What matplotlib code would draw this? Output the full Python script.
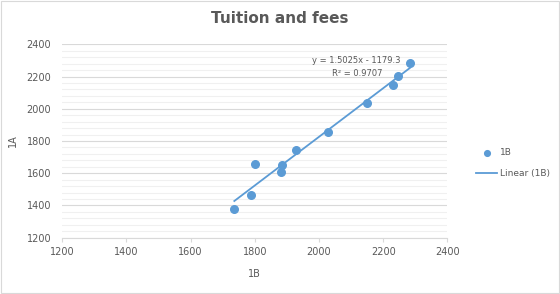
import numpy as np
import matplotlib
matplotlib.use("Agg")
import matplotlib.pyplot as plt
from matplotlib.patches import Rectangle

x_1b = [1736, 1788, 1800, 1882, 1884, 1929, 2028, 2149, 2229, 2246, 2283]
y_1a = [1375, 1466, 1657, 1607, 1648, 1745, 1855, 2035, 2145, 2201, 2284]
x_ticks = [1200, 1400, 1600, 1800, 2000, 2200, 2400]
y_ticks = [1200, 1400, 1600, 1800, 2000, 2200, 2400]

blue = "#5B9BD5"
grey = "#595959"

fig = plt.figure(figsize=(5.6, 2.94), dpi=100)
fig.patches.append(Rectangle((0.002, 0.003), 0.996, 0.994, transform=fig.transFigure,
                             fill=False, edgecolor="#D9D9D9", linewidth=0.8))
ax = fig.add_axes([0.1112, 0.1915, 0.6878, 0.6578])

coef = np.polyfit(x_1b, y_1a, 1)
xl = np.array([min(x_1b), max(x_1b)])
ax.plot(xl, np.polyval(coef, xl), color=blue, lw=1.3, label="Linear (1B)", zorder=3)
ax.scatter(x_1b, y_1a, s=30, color=blue, label="1B", zorder=4)

ax.set_xlim(1200, 2400)
ax.set_ylim(1200, 2400)
ax.set_xticks(x_ticks)
ax.set_yticks(y_ticks)
ax.set_yticks(np.arange(1200, 2401, 40), minor=True)
ax.grid(axis="y", which="major", color="#D9D9D9", lw=0.8)
ax.grid(axis="y", which="minor", color="#F0F0F0", lw=0.8)
ax.set_axisbelow(True)
for s in ["top", "right", "left"]:
    ax.spines[s].set_visible(False)
ax.spines["bottom"].set_color("#D9D9D9")
ax.tick_params(axis="y", which="both", length=0, labelsize=7, labelcolor=grey, pad=8)
ax.tick_params(axis="x", which="major", length=3, color="#D9D9D9", labelsize=7, labelcolor=grey)
ax.tick_params(axis="x", which="minor", length=0)

ax.set_xlabel("1B", fontsize=7, color=grey, labelpad=9)
ax.set_ylabel("1A", fontsize=7, color=grey, labelpad=6)
fig.suptitle("Tuition and fees", fontsize=11, fontweight="bold", color=grey, y=0.962)

ax.text(2115, 2285, "y = 1.5025x - 1179.3", fontsize=6, color=grey, ha="center")
ax.text(2120, 2202, "R² = 0.9707", fontsize=6, color=grey, ha="center")

h, l = ax.get_legend_handles_labels()
fig.legend([h[1], h[0]], [l[1], l[0]], loc="center left", bbox_to_anchor=(0.835, 0.445),
           frameon=False, fontsize=6.5, labelcolor=grey, handlelength=2.4, labelspacing=1.3,
           markerscale=0.75, handletextpad=0.3)

fig.savefig("out.png", dpi=100)
